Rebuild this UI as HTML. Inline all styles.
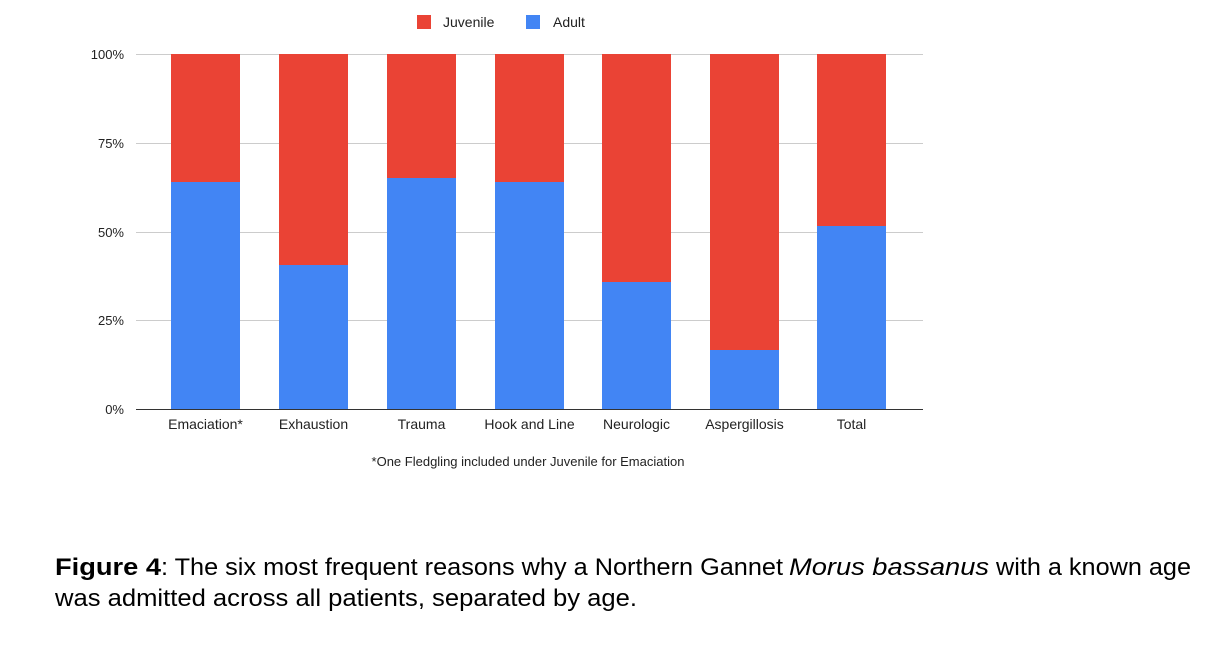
<!DOCTYPE html>
<html><head><meta charset="utf-8"><style>
html,body{margin:0;padding:0;background:#fff;}
svg{display:block;}
</style></head><body>
<svg width="1228" height="658" viewBox="0 0 1228 658" xmlns="http://www.w3.org/2000/svg" font-family="Liberation Sans, Arial, sans-serif">
<rect width="1228" height="658" fill="#fff"/>
<rect x="417" y="15" width="14" height="14" fill="#ea4335"/>
<text x="443" y="27" font-size="14" fill="#222">Juvenile</text>
<rect x="526" y="15" width="14" height="14" fill="#4285f4"/>
<text x="553" y="27" font-size="14" fill="#222">Adult</text>
<g stroke="#ccc" stroke-width="1">
<line x1="136" y1="54.5" x2="923" y2="54.5"/>
<line x1="136" y1="143.5" x2="923" y2="143.5"/>
<line x1="136" y1="232.5" x2="923" y2="232.5"/>
<line x1="136" y1="320.5" x2="923" y2="320.5"/>
</g>
<g font-size="13" fill="#222" text-anchor="end">
<text x="124" y="59">100%</text>
<text x="124" y="148">75%</text>
<text x="124" y="237">50%</text>
<text x="124" y="325">25%</text>
<text x="124" y="414">0%</text>
</g>
<g>
<rect x="171" y="54" width="69" height="355" fill="#ea4335"/><rect x="171" y="182" width="69" height="227" fill="#4285f4"/>
<rect x="279" y="54" width="69" height="355" fill="#ea4335"/><rect x="279" y="265" width="69" height="144" fill="#4285f4"/>
<rect x="387" y="54" width="69" height="355" fill="#ea4335"/><rect x="387" y="178" width="69" height="231" fill="#4285f4"/>
<rect x="495" y="54" width="69" height="355" fill="#ea4335"/><rect x="495" y="182" width="69" height="227" fill="#4285f4"/>
<rect x="602" y="54" width="69" height="355" fill="#ea4335"/><rect x="602" y="282" width="69" height="127" fill="#4285f4"/>
<rect x="710" y="54" width="69" height="355" fill="#ea4335"/><rect x="710" y="350" width="69" height="59" fill="#4285f4"/>
<rect x="817" y="54" width="69" height="355" fill="#ea4335"/><rect x="817" y="226" width="69" height="183" fill="#4285f4"/>
</g>
<line x1="136" y1="409.5" x2="923" y2="409.5" stroke="#333" stroke-width="1"/>
<g font-size="14" fill="#222" text-anchor="middle">
<text x="205.5" y="429">Emaciation*</text>
<text x="313.5" y="429">Exhaustion</text>
<text x="421.5" y="429">Trauma</text>
<text x="529.5" y="429">Hook and Line</text>
<text x="636.5" y="429">Neurologic</text>
<text x="744.5" y="429">Aspergillosis</text>
<text x="851.5" y="429">Total</text>
</g>
<text x="528" y="466" font-size="13" fill="#222" text-anchor="middle">*One Fledgling included under Juvenile for Emaciation</text>
<text x="55" y="575" font-size="24" fill="#000"><tspan font-weight="bold" textLength="106" lengthAdjust="spacingAndGlyphs">Figure 4</tspan></text>
<text x="161" y="575" font-size="24" fill="#000" textLength="622" lengthAdjust="spacingAndGlyphs">: The six most frequent reasons why a Northern Gannet</text>
<text x="789" y="575" font-size="24" font-style="italic" fill="#000" textLength="200" lengthAdjust="spacingAndGlyphs">Morus bassanus</text>
<text x="996" y="575" font-size="24" fill="#000" textLength="195" lengthAdjust="spacingAndGlyphs">with a known age</text>
<text x="55" y="606" font-size="24" fill="#000" textLength="582" lengthAdjust="spacingAndGlyphs">was admitted across all patients, separated by age.</text>
</svg>
</body></html>
